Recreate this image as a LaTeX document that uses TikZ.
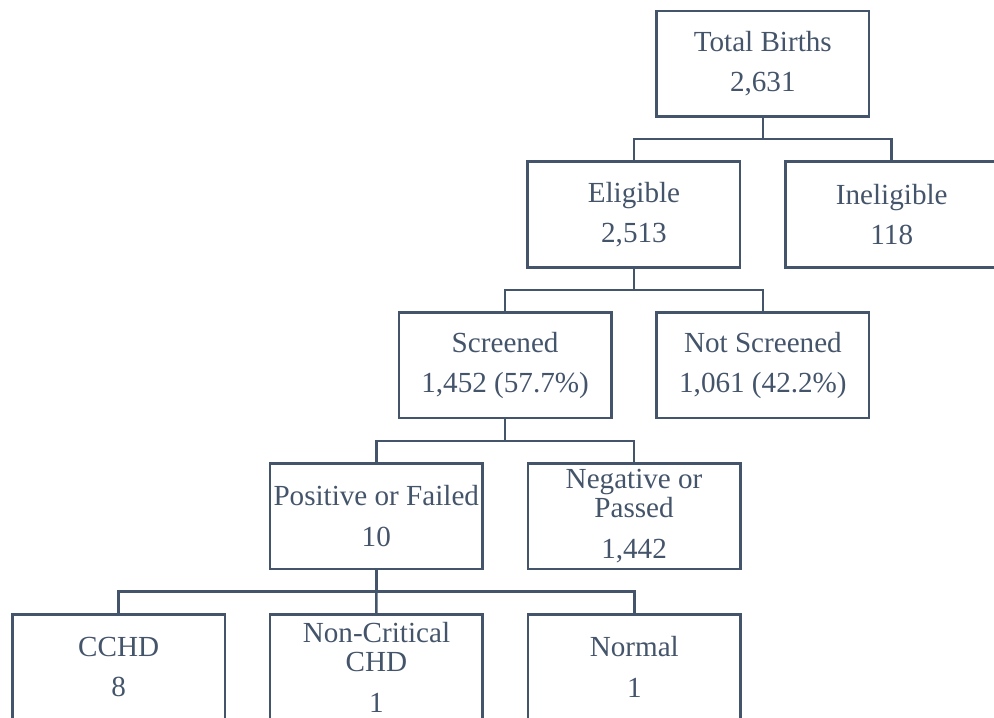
\documentclass[tikz,border=0pt]{standalone}
\usepackage{fontspec}
\setmainfont{Liberation Serif}
\usetikzlibrary{positioning}
\definecolor{slate}{HTML}{44546A}
\tikzstyle{box} = [rectangle, minimum width=159pt, minimum height=79pt, inner xsep=1pt, align=center, text centered, draw=slate, line width=1.9pt, text=slate, font=\fontsize{21.8}{21.8}\selectfont]
\tikzstyle{link} = [draw=slate, line width=1.9pt]

\begin{document}
\begin{tikzpicture}[node distance=32pt]
\useasboundingbox (-570.75pt,-489.5pt) rectangle (173pt,47.6pt);
\node (total) [box] at (0,0) {Total Births\\[8.6pt]2,631};
\node (eligible) [box, below=of total, xshift=-96.4pt] {Eligible\\[8.6pt]2,513};
\node (ineligible) [box, right=of eligible] {Ineligible\\[8.6pt]118};

\node (screened) [box, below=of eligible, xshift=-96.4pt] {Screened\\[8.6pt]1,452 (57.7\%)};
\node (notscr) [box, right=of screened] {Not Screened\\[8.6pt]1,061 (42.2\%)};

\node (positive) [box, below=of screened, xshift=-96.4pt] {Positive or Failed\\[8.6pt]10};
\node (negative) [box, right=of positive] {Negative or\\Passed\\[8.6pt]1,442};

\node (cchd) [box, below=of positive, xshift=-192.75pt] {CCHD\\[8.6pt]8};
\node (noncrit) [box, right=of cchd] {Non-Critical\\CHD\\[8.6pt]1};
\node (normal) [box, right=of noncrit] {Normal\\[8.6pt]1};

\draw [link] (total.south) -- ++(0,-16pt) -| (eligible.north);
\draw [link] (total.south) -- ++(0,-16pt) -| (ineligible.north);
\draw [link] (eligible.south) -- ++(0,-16pt) -| (screened.north);
\draw [link] (eligible.south) -- ++(0,-16pt) -| (notscr.north);
\draw [link] (screened.south) -- ++(0,-16pt) -| (positive.north);
\draw [link] (screened.south) -- ++(0,-16pt) -| (negative.north);
\draw [link] (positive.south) -- ++(0,-16pt) -| (cchd.north);
\draw [link] (positive.south) -- (noncrit.north);
\draw [link] (positive.south) -- ++(0,-16pt) -| (normal.north);
\end{tikzpicture}
\end{document}
